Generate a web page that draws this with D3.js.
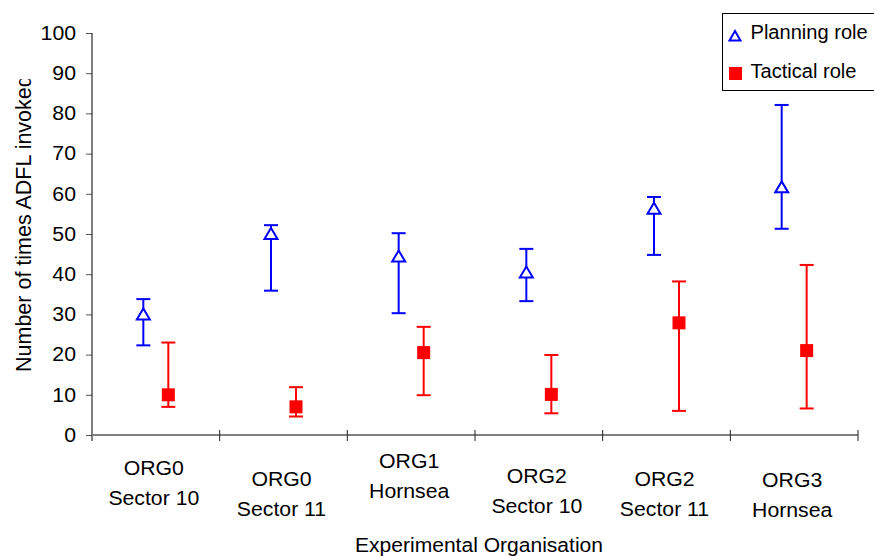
<!DOCTYPE html>
<html>
<head>
<meta charset="utf-8">
<script src="https://cdn.jsdelivr.net/npm/d3@7"></script>
<style>
  body { margin: 0; background: #fff; }
  text { font-family: "Liberation Sans", Arial, sans-serif; fill: #000; }
</style>
</head>
<body>
<div id="chart"></div>
<script>
// categories (two lines each)
let orgNames = ["ORG0", "ORG0", "ORG1", "ORG2", "ORG2", "ORG3"];
let siteNames = ["Sector 10", "Sector 11", "Hornsea", "Sector 10", "Sector 11", "Hornsea"];

// Planning role: mean and error range
let planningMean = [30, 50, 44.4, 40.4, 56.3, 61.6];
let planningLow = [22.3, 35.9, 30.3, 33.3, 44.8, 51.3];
let planningHigh = [33.8, 52.2, 50.2, 46.3, 59.2, 82.1];

// Tactical role: mean and error range
let tacticalMean = [10, 7, 20.5, 10.1, 27.9, 21];
let tacticalLow = [7, 4.6, 9.9, 5.4, 6.0, 6.6];
let tacticalHigh = [23, 11.9, 26.9, 19.9, 38.2, 42.3];

let yTicks = [0, 10, 20, 30, 40, 50, 60, 70, 80, 90, 100];

let width = 874;
let height = 556;
let margin = ({top: 33, right: 16, bottom: 121, left: 92});

// small vertical shifts of the category labels, as in the original
let labelShift = [0, 11, -7, 8, 11, 12];

// the original text is a bit wider than plain Arial
let fontSize = 19.5;
let stretch = 1.09;

let svg = d3.select("#chart")
    .append("svg")
    .attr("width", width)
    .attr("height", height);

let xScale = d3.scaleBand()
    .domain(d3.range(orgNames.length))
    .range([margin.left, width - margin.right])
    .padding(0);

let yScale = d3.scaleLinear()
    .domain([0, 100])
    .range([height - margin.bottom, margin.top]);

let offset = 12.5;

function wideText(parent, x, y, str, anchor, sx) {
    return parent.append("text")
        .attr("transform", "translate(" + x + "," + y + ") scale(" + (sx || stretch) + ",1)")
        .attr("text-anchor", anchor || "start")
        .style("font-size", fontSize + "px")
        .text(str);
}

// y axis
let yAxis = d3.axisLeft(yScale).tickValues(yTicks).tickSize(6).tickSizeOuter(0);
let gy = svg.append("g")
    .attr("transform", "translate(" + margin.left + ",0)")
    .call(yAxis);
gy.select(".domain").remove();
gy.append("line")
    .attr("x1", 0).attr("x2", 0)
    .attr("y1", yScale(100)).attr("y2", yScale(0) + 6)
    .attr("stroke", "#000");
gy.selectAll(".tick line").attr("stroke", "#555");
gy.selectAll(".tick text")
    .attr("x", 0)
    .attr("transform", "translate(-16,0) scale(" + stretch + ",1)")
    .style("font-size", fontSize + "px")
    .style("font-family", "Liberation Sans, Arial, sans-serif")
    .attr("fill", "#000");

// x axis line (gray) with crossing ticks
let x0 = yScale(0);
svg.append("line")
    .attr("x1", margin.left).attr("x2", width - margin.right)
    .attr("y1", x0).attr("y2", x0)
    .attr("stroke", "#808080")
    .attr("stroke-width", 2);

let boundaries = xScale.domain().map(i => xScale(i)).concat([xScale.range()[1]]);
svg.selectAll(".xtick")
    .data(boundaries.slice(1))
    .enter()
    .append("line")
    .attr("class", "xtick")
    .attr("x1", d => d).attr("x2", d => d)
    .attr("y1", x0 - 5).attr("y2", x0 + 6)
    .attr("stroke", "#222");

// category labels
orgNames.forEach((org, i) => {
    let cx = xScale(i) + xScale.bandwidth() / 2 - 2;
    wideText(svg, cx, 475 + labelShift[i], org, "middle");
    wideText(svg, cx, 505 + labelShift[i], siteNames[i], "middle");
});

// axis titles
wideText(svg, 479, 552, "Experimental Organisation", "middle", 1.08);

let titleClip = svg.append("g").attr("clip-path", "url(#ytitle-clip)");
svg.append("clipPath")
    .attr("id", "ytitle-clip")
    .append("rect")
    .attr("x", 0).attr("y", 79).attr("width", 45).attr("height", 400);

titleClip.append("text")
    .attr("transform", "translate(31,372) rotate(-90)")
    .attr("text-anchor", "start")
    .style("font-size", "21.5px")
    .text("Number of times ADFL invoked");

// series
let series = [
    {name: "Planning role", color: "#0000ff", mean: planningMean, low: planningLow, high: planningHigh, dx: -offset, marker: "triangle"},
    {name: "Tactical role", color: "#ff0000", mean: tacticalMean, low: tacticalLow, high: tacticalHigh, dx: offset, marker: "square"}
];

let triangle = "M0,-6 L6.5,5 L-6.5,5 Z";

series.forEach(s => {
    let cx = i => xScale(i) + xScale.bandwidth() / 2 + s.dx;
    let g = svg.append("g");
    let rows = s.mean.map((m, i) => ({i: i, m: m, lo: s.low[i], hi: s.high[i]}));

    g.selectAll(".bar")
        .data(rows)
        .enter()
        .append("line")
        .attr("x1", d => cx(d.i)).attr("x2", d => cx(d.i))
        .attr("y1", d => yScale(d.lo)).attr("y2", d => yScale(d.hi))
        .attr("stroke", s.color)
        .attr("stroke-width", 2);

    ["lo", "hi"].forEach(k => {
        g.selectAll(".cap-" + k)
            .data(rows)
            .enter()
            .append("line")
            .attr("x1", d => cx(d.i) - 7).attr("x2", d => cx(d.i) + 7)
            .attr("y1", d => yScale(d[k])).attr("y2", d => yScale(d[k]))
            .attr("stroke", s.color)
            .attr("stroke-width", 2);
    });

    if (s.marker === "triangle") {
        g.selectAll(".mk")
            .data(rows)
            .enter()
            .append("path")
            .attr("d", triangle)
            .attr("transform", d => "translate(" + cx(d.i) + "," + yScale(d.m) + ")")
            .attr("fill", "#fff")
            .attr("stroke", s.color)
            .attr("stroke-width", 2);
    } else {
        g.selectAll(".mk")
            .data(rows)
            .enter()
            .append("rect")
            .attr("x", d => cx(d.i) - 6.5)
            .attr("y", d => yScale(d.m) - 6.5)
            .attr("width", 13)
            .attr("height", 13)
            .attr("fill", s.color);
    }
});

// legend
let legend = svg.append("g").attr("transform", "translate(722,13)");
legend.append("rect")
    .attr("x", 0.5).attr("y", 0.5)
    .attr("width", 160).attr("height", 77)
    .attr("fill", "#fff")
    .attr("stroke", "#000");

series.forEach((s, i) => {
    let ly = 19 + i * 39;
    if (s.marker === "triangle") {
        legend.append("path")
            .attr("d", "M0,-5 L5.5,4.5 L-5.5,4.5 Z")
            .attr("transform", "translate(13," + (ly + 4) + ")")
            .attr("fill", "#fff")
            .attr("stroke", s.color)
            .attr("stroke-width", 2);
    } else {
        legend.append("rect")
            .attr("x", 7).attr("y", ly - 6 + 2)
            .attr("width", 13).attr("height", 13)
            .attr("fill", s.color);
    }
    wideText(legend, 28.5, ly + 6.5, s.name, "start", 1.03);
});
</script>
</body>
</html>
